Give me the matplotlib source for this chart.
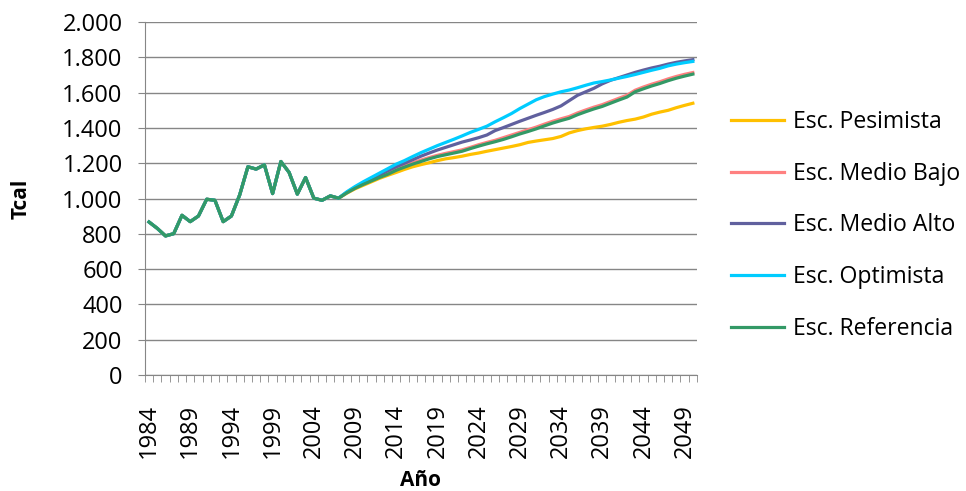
import numpy as np
import matplotlib
matplotlib.use("Agg")
import matplotlib.pyplot as plt
from matplotlib.ticker import FuncFormatter, FixedLocator

plt.rcParams['font.family'] = ['Open Sans', 'DejaVu Sans']

# datos historicos (comunes a todos los escenarios)
years_hist = list(range(1984, 2008))
hist = [867, 831, 788, 801, 905, 869, 901, 996, 990, 869, 901, 1020,
        1180, 1167, 1191, 1028, 1210, 1148, 1025, 1119, 1002, 990, 1015, 1002]

# proyecciones 2008-2050
years_proj = list(range(2008, 2051))
pesimista = [1030, 1055, 1075, 1095, 1115, 1132, 1148, 1165, 1180, 1192, 1203,
             1215, 1225, 1232, 1240, 1250, 1258, 1268, 1277, 1286, 1295, 1305,
             1318, 1326, 1333, 1340, 1352, 1372, 1385, 1395, 1403, 1410, 1420,
             1432, 1442, 1450, 1462, 1478, 1490, 1500, 1515, 1528, 1540]
medio_bajo = [1033, 1060, 1083, 1105, 1125, 1145, 1165, 1185, 1202, 1218, 1232,
              1245, 1256, 1266, 1276, 1290, 1305, 1318, 1330, 1345, 1360, 1375,
              1390, 1405, 1422, 1438, 1452, 1465, 1485, 1502, 1518, 1532, 1550,
              1568, 1585, 1614, 1632, 1648, 1662, 1678, 1692, 1704, 1714]
medio_alto = [1035, 1063, 1088, 1112, 1135, 1158, 1180, 1200, 1220, 1240, 1258,
              1275, 1290, 1305, 1320, 1332, 1345, 1360, 1385, 1402, 1420, 1438,
              1455, 1472, 1488, 1505, 1525, 1555, 1585, 1605, 1625, 1650, 1670,
              1685, 1700, 1715, 1728, 1740, 1750, 1762, 1772, 1780, 1787]
optimista = [1038, 1068, 1095, 1120, 1145, 1170, 1195, 1215, 1238, 1260, 1280,
             1300, 1318, 1336, 1355, 1375, 1392, 1410, 1435, 1458, 1482, 1510,
             1535, 1560, 1578, 1592, 1605, 1615, 1628, 1642, 1655, 1663, 1672,
             1682, 1692, 1703, 1715, 1727, 1738, 1752, 1762, 1770, 1777]
referencia = [1032, 1058, 1080, 1100, 1120, 1138, 1160, 1178, 1195, 1210, 1225,
              1238, 1248, 1258, 1268, 1283, 1297, 1310, 1322, 1335, 1350, 1366,
              1380, 1395, 1412, 1428, 1442, 1455, 1475, 1492, 1508, 1522, 1540,
              1558, 1575, 1605, 1622, 1638, 1652, 1668, 1682, 1694, 1705]

series = [
    ("Esc. Pesimista", pesimista, "#FFC000"),
    ("Esc. Medio Bajo", medio_bajo, "#FF8080"),
    ("Esc. Medio Alto", medio_alto, "#60609E"),
    ("Esc. Optimista", optimista, "#00CCFF"),
    ("Esc. Referencia", referencia, "#339966"),
]

fig = plt.figure(figsize=(9.66, 4.91), dpi=100)
ax = fig.add_axes([0.150, 0.2363, 0.5715, 0.7187])

years = years_hist + years_proj
for name, vals, col in series:
    ax.plot(years, hist + vals, color=col, linewidth=2.3, label=name,
            solid_joinstyle='round')

ax.set_xlim(1983.5, 2050.5)
ax.set_ylim(0, 2000)
ax.set_yticks(np.arange(0, 2001, 200))
ax.yaxis.set_major_formatter(FuncFormatter(lambda v, p: f"{int(v):,}".replace(",", ".")))
ax.grid(axis='y', color='#868686', linewidth=1)
ax.set_axisbelow(True)

ax.set_xticks(list(range(1984, 2050, 5)))
ax.xaxis.set_minor_locator(FixedLocator(np.arange(1983.5, 2051, 1)))
ax.tick_params(axis='x', which='major', length=0, labelsize=17, rotation=90, pad=21)
ax.tick_params(axis='x', which='minor', length=5, color='#868686', direction='out')
ax.tick_params(axis='y', which='major', length=5, color='#868686', labelsize=17, pad=11)

for s in ['top', 'right']:
    ax.spines[s].set_visible(False)
for s in ['left', 'bottom']:
    ax.spines[s].set_color('#868686')

ax.set_ylabel("Tcal", fontsize=15, fontweight='bold')
ax.yaxis.set_label_coords(-0.205, 0.5)
ax.set_xlabel("Año", fontsize=15, fontweight='bold')
ax.xaxis.set_label_coords(0.5, -0.27)

fig.legend(loc='center left', bbox_to_anchor=(0.745, 0.541), frameon=False,
           fontsize=16.6, handlelength=2.3, handletextpad=0.39, labelspacing=1.2,
           borderpad=0)

fig.savefig("out.png", dpi=100)
